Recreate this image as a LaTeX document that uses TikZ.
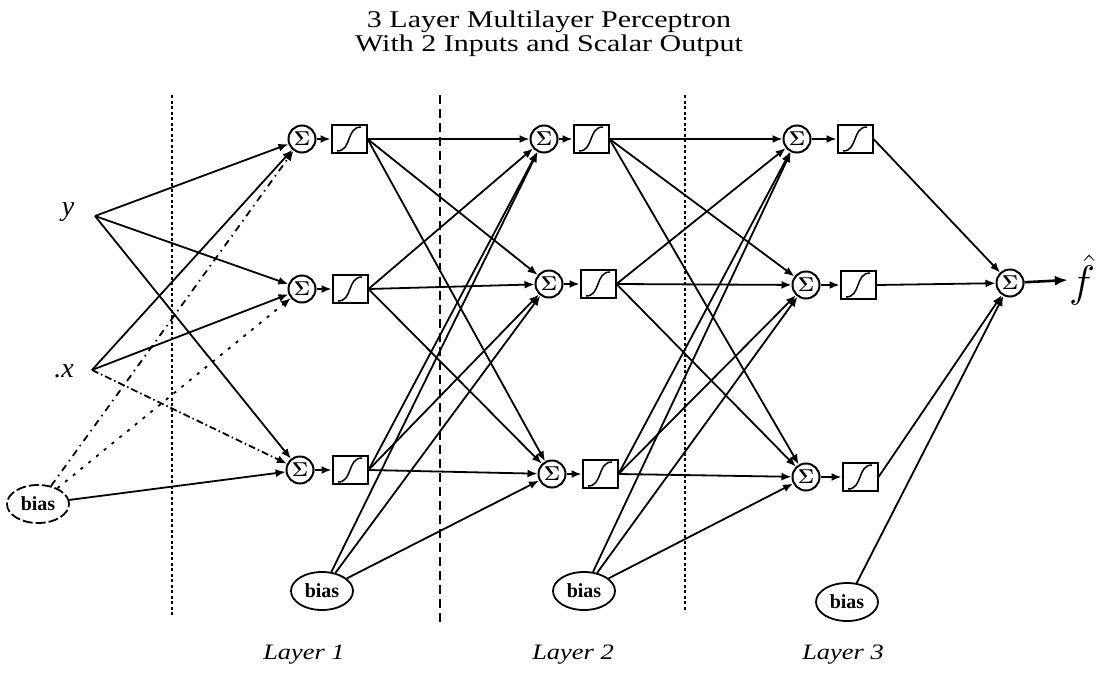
\documentclass[tikz,border=0pt]{standalone}
\usepackage{fix-cm}
\usepackage[no-math]{fontspec}
\setmainfont{Liberation Serif}
\usetikzlibrary{arrows.meta,shapes.geometric}
\begin{document}
\begin{tikzpicture}[x=1pt,y=-1pt,
  conn/.style={line width=1.8pt,-{Latex[length=10pt,width=8pt]}},
  sumnode/.style={circle,draw,line width=2pt,minimum size=27pt,inner sep=0pt,font=\fontsize{20}{20}\selectfont},
  sigbox/.style={draw,line width=2pt,minimum width=35pt,minimum height=28pt,inner sep=0pt,
    path picture={\draw[line width=1.5pt] ([shift={(-12,12)}]path picture bounding box.center) .. controls ([shift={(3,12)}]path picture bounding box.center) and ([shift={(-3,-12)}]path picture bounding box.center) .. ([shift={(12,-12)}]path picture bounding box.center);}},
  biasnode/.style={ellipse,draw,line width=1.8pt,minimum width=62pt,minimum height=38pt,inner sep=0pt,font=\fontsize{20}{20}\selectfont\bfseries},
  sepline/.style={line width=2.2pt,dash pattern=on 3pt off 2.5pt},
  titletext/.style={font=\fontsize{24}{24}\selectfont,xscale=1.25,transform shape,inner sep=0pt},
  layertext/.style={font=\fontsize{22}{22}\selectfont\itshape,xscale=1.2,transform shape,inner sep=0pt},
  inlabel/.style={font=\fontsize{28}{28}\selectfont\itshape,inner sep=0pt},
]
\useasboundingbox (0,0) rectangle (1098,675);
\fill[white] (0,0) rectangle (1098,675);

% title
\node[titletext] (t1) at (549,22) {3 Layer Multilayer Perceptron};
\node[titletext] (t2) at (549,46) {With 2 Inputs and Scalar Output};

% separators
\draw[sepline] (172,95) -- (172,615);
\draw[line width=2.2pt,dash pattern=on 9pt off 5pt] (440,95) -- (440,622);
\draw[sepline] (685,95) -- (685,612);

% inputs
\coordinate (yy) at (95,216);
\coordinate (xx) at (92,370);
\node[inlabel] (ylab) at (68,212) {y};
\node[inlabel] (xlab) at (64,371) {.x};
\node[biasnode,dash pattern=on 10pt off 3pt] (b1) at (38,504) {bias};

% layer 1
\node[sumnode] (s11) at (302,139) {$\mathbf{\Sigma}$};
\node[sumnode] (s12) at (302,289) {$\mathbf{\Sigma}$};
\node[sumnode] (s13) at (300,470) {$\mathbf{\Sigma}$};
\node[sigbox] (g11) at (349,139) {};
\node[sigbox] (g12) at (350,289) {};
\node[sigbox] (g13) at (350,470) {};

% layer 2
\node[sumnode] (s21) at (544,139) {$\mathbf{\Sigma}$};
\node[sumnode] (s22) at (549,284) {$\mathbf{\Sigma}$};
\node[sumnode] (s23) at (552,474) {$\mathbf{\Sigma}$};
\node[sigbox] (g21) at (591,139) {};
\node[sigbox] (g22) at (598,284) {};
\node[sigbox] (g23) at (600,474) {};
\node[biasnode] (b2) at (322,591) {bias};

% layer 3
\node[sumnode] (s31) at (797,139) {$\mathbf{\Sigma}$};
\node[sumnode] (s32) at (806,285) {$\mathbf{\Sigma}$};
\node[sumnode] (s33) at (806,477) {$\mathbf{\Sigma}$};
\node[sigbox] (g31) at (855,139) {};
\node[sigbox] (g32) at (858,285) {};
\node[sigbox] (g33) at (860,477) {};
\node[biasnode] (b3) at (584,591) {bias};

% output
\node[sumnode] (so) at (1010,283) {$\mathbf{\Sigma}$};
\node[biasnode] (b4) at (847,602) {bias};
\node[inner sep=1pt,font=\fontsize{44}{44}\selectfont] (fh) at (1082,280) {$\hat{f}$};

% input connections
\foreach \t in {s11,s12,s13} \draw[conn] (yy) -- (\t);
\draw[conn] (xx) -- (s11);
\draw[conn] (xx) -- (s12);
\draw[conn,dash pattern=on 7pt off 3pt on 1.5pt off 3pt] (xx) -- (s13);
\draw[conn,dash pattern=on 7pt off 5pt on 1.5pt off 5pt] (b1) -- (s11);
\draw[conn,dash pattern=on 3pt off 7pt] (b1) -- (s12);
\draw[conn] (b1) -- (s13);

% sum to sigmoid
\foreach \i in {1,2,3} {
  \draw[conn] (s1\i) -- (g1\i);
  \draw[conn] (s2\i) -- (g2\i);
  \draw[conn] (s3\i) -- (g3\i);
}

% layer 1 -> layer 2
\foreach \i in {1,2,3} \foreach \j in {1,2,3} \draw[conn] (g1\i.east) -- (s2\j);
\foreach \j in {1,2,3} \draw[conn] (b2) -- (s2\j);

% layer 2 -> layer 3
\foreach \i in {1,2,3} \foreach \j in {1,2,3} \draw[conn] (g2\i.east) -- (s3\j);
\foreach \j in {1,2,3} \draw[conn] (b3) -- (s3\j);

% layer 3 -> output
\foreach \i in {1,2,3} \draw[conn] (g3\i.east) -- (so);
\draw[conn] (b4) -- (so);
\draw[line width=2.6pt,-{Latex[length=13pt,width=10pt]}] (so) -- (fh.west);

% layer labels
\node[layertext] (l1) at (304,655) {Layer 1};
\node[layertext] (l2) at (573,655) {Layer 2};
\node[layertext] (l3) at (843,655) {Layer 3};
\end{tikzpicture}
\end{document}
